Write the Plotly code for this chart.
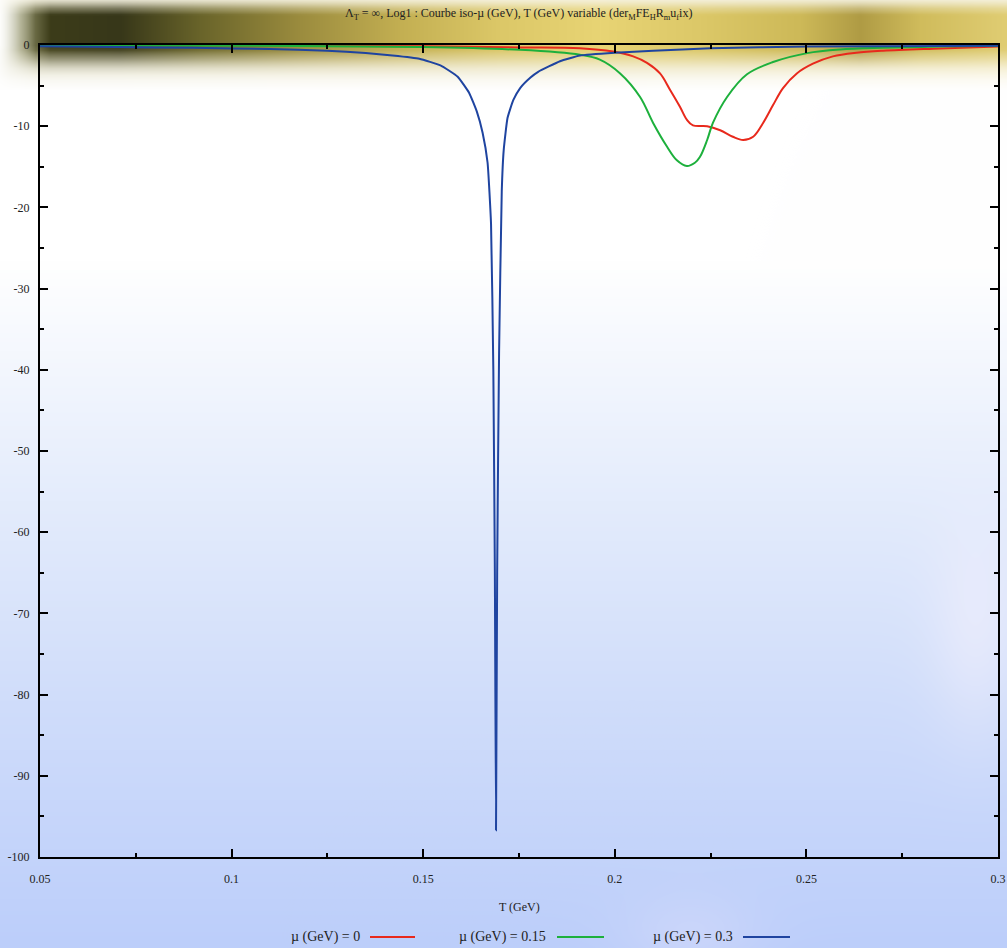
import numpy as np, zlib, struct, base64
import plotly.graph_objects as go

# ---------------- data ----------------
mu_labels = ["µ (GeV) = 0", "µ (GeV) = 0.15", "µ (GeV) = 0.3"]

T_mu0 = [0.05, 0.10, 0.15, 0.175, 0.1909, 0.1995, 0.2048, 0.2084, 0.2118, 0.2144, 0.2170,
         0.2188, 0.2204, 0.2241, 0.2275, 0.2308, 0.2335, 0.2361, 0.2387, 0.2413, 0.2439,
         0.2475, 0.2517, 0.2569, 0.2630, 0.2700, 0.2830, 0.3000]
V_mu0 = [-0.02, -0.06, -0.15, -0.3, -0.4, -0.8, -1.4, -2.2, -3.5, -5.5, -7.6,
         -9.2, -9.9, -10.0, -10.5, -11.3, -11.7, -11.3, -9.6, -7.4, -5.3,
         -3.5, -2.3, -1.4, -0.95, -0.7, -0.45, -0.2]

T_mu015 = [0.05, 0.10, 0.1492, 0.1753, 0.1909, 0.1961, 0.2014, 0.2066, 0.2100, 0.2136,
           0.2162, 0.2188, 0.2209, 0.2222, 0.2241, 0.2256, 0.2293, 0.2345, 0.2413,
           0.2502, 0.2588, 0.2700, 0.2850, 0.3000]
V_mu015 = [-0.03, -0.08, -0.25, -0.6, -1.2, -1.8, -3.5, -6.4, -9.6, -12.5,
           -14.2, -14.9, -14.5, -13.8, -11.7, -9.6, -6.4, -3.6, -2.1,
           -1.0, -0.55, -0.35, -0.2, -0.1]

T_mu03 = [0.05, 0.07, 0.09, 0.11, 0.125, 0.135, 0.142, 0.149, 0.1545, 0.159, 0.162,
          0.164, 0.1655, 0.1668, 0.1677, 0.1683, 0.1687, 0.1690, 0.1693, 0.1698,
          0.1705, 0.1710, 0.1720, 0.1735, 0.1753, 0.1780, 0.1800, 0.1857, 0.1909,
          0.2000, 0.2100, 0.2250, 0.2500, 0.3000]
V_mu03 = [-0.15, -0.25, -0.35, -0.5, -0.7, -1.0, -1.3, -1.7, -2.5, -3.9, -5.9,
          -8.2, -10.8, -14.5, -22.0, -40.0, -65.0, -96.7, -65.0, -38.0,
          -18.0, -13.0, -9.0, -6.8, -5.3, -4.0, -3.3, -2.0, -1.3,
          -0.95, -0.7, -0.4, -0.2, -0.1]

x_ticks = [0.05, 0.1, 0.15, 0.2, 0.25, 0.3]
x_tick_text = ["0.05", "0.1", "0.15", "0.2", "0.25", "0.3"]
y_ticks = [0, -10, -20, -30, -40, -50, -60, -70, -80, -90, -100]
y_tick_text = ["0", "-10", "-20", "-30", "-40", "-50", "-60", "-70", "-80", "-90", "-100"]

colors = ["#e8291c", "#1db03c", "#1f44a0"]

# ---------------- background image ----------------
W, H = 1007, 948
yy = np.arange(H, dtype=float)[:, None] * np.ones((1, W))
xx = np.ones((H, 1)) * np.arange(W, dtype=float)[None, :]

def interp_rgb(pos, stops, cols):
    cols = np.array(cols, dtype=float)
    return np.stack([np.interp(pos, stops, cols[:, k]) for k in range(3)], axis=-1)

base = interp_rgb(yy, [0, 260, 350, 500, 700, 948],
                  [(255, 255, 255), (255, 255, 255), (245, 248, 254), (228, 236, 252),
                   (208, 221, 250), (188, 206, 250)])

band_col = interp_rgb(xx, [0, 20, 50, 120, 200, 300, 400, 500, 600, 700, 800, 860, 920, 1007],
                      [(240, 240, 230), (150, 150, 110), (60, 60, 25), (55, 55, 25), (105, 100, 42),
                       (155, 140, 62), (195, 175, 82), (220, 200, 104), (232, 212, 116),
                       (220, 200, 104), (205, 185, 88), (175, 155, 68), (208, 188, 92), (224, 205, 115)])
top_col = np.array([238, 232, 200], dtype=float)
tw = np.interp(yy, [0, 6, 14], [0.8, 0.4, 0.0])[..., None]
band_col = band_col * (1 - tw) + top_col * tw
lowfade = np.interp(yy, [0, 45, 60, 75], [1.0, 1.0, 0.6, 0.0])[..., None]
pale = interp_rgb(xx, [0, 300, 1007], [(200, 195, 150), (215, 205, 150), (235, 222, 160)])
band_col = band_col * lowfade + pale * (1 - lowfade)
alpha = np.interp(yy, [0, 8, 16, 50, 58, 68, 80, 90], [0.6, 0.9, 1.0, 1.0, 0.75, 0.4, 0.12, 0.0])
alpha = alpha * np.interp(xx, [0, 10, 35], [0.2, 0.5, 1.0])
img = base * (1 - alpha[..., None]) + band_col * alpha[..., None]

blob = 0.55 * np.exp(-(((xx - 975) / 45.0) ** 2 + ((yy - 620) / 110.0) ** 2))
img = img * (1 - blob[..., None]) + np.array([242, 240, 253.0]) * blob[..., None]
blob2 = 0.35 * np.exp(-(((xx - 690) / 70.0) ** 2 + ((yy - 935) / 40.0) ** 2))
img = img * (1 - blob2[..., None]) + np.array([225, 225, 250.0]) * blob2[..., None]

img = np.clip(img, 0, 255).astype(np.uint8)

def png_bytes(a):
    h, w, _ = a.shape
    raw = b"".join(b"\x00" + a[i].tobytes() for i in range(h))
    def chunk(t, d):
        c = struct.pack(">I", len(d)) + t + d
        return c + struct.pack(">I", zlib.crc32(t + d) & 0xffffffff)
    return (b"\x89PNG\r\n\x1a\n" + chunk(b"IHDR", struct.pack(">IIBBBBB", w, h, 8, 2, 0, 0, 0))
            + chunk(b"IDAT", zlib.compress(raw, 9)) + chunk(b"IEND", b""))

bg_uri = "data:image/png;base64," + base64.b64encode(png_bytes(img)).decode()

# ---------------- figure ----------------
L, R, Tm, B = 40, 9, 45, 91
PW, PH = W - L - R, H - Tm - B

def px(x):
    return (x - L) / PW

def py(y):
    return (H - B - y) / PH

fig = go.Figure()
series = [(T_mu0, V_mu0, 1.0), (T_mu015, V_mu015, 1.0), (T_mu03, V_mu03, 0.4)]
for (t, v, sm), c, name in zip(series, colors, mu_labels):
    fig.add_trace(go.Scatter(x=t, y=v, mode="lines", name=name,
                             line=dict(color=c, width=2, shape="spline", smoothing=sm)))

font = "Liberation Serif, Times New Roman, serif"
axis_common = dict(showline=True, linecolor="black", linewidth=2, mirror="ticks",
                   ticks="inside", tickcolor="black", tickwidth=1.5, ticklen=8,
                   showgrid=False, zeroline=False,
                   tickfont=dict(family=font, size=12, color="#222"),
                   minor=dict(ticks="inside", ticklen=4, tickcolor="black", tickwidth=1.5, showgrid=False))

fig.update_xaxes(range=[0.05, 0.3], tickvals=x_ticks, ticktext=x_tick_text,
                 ticklabelstandoff=10, **axis_common)
fig.update_xaxes(minor_dtick=0.025)
fig.update_yaxes(range=[-100, 0], tickvals=y_ticks, ticktext=y_tick_text,
                 ticklabelstandoff=6, **axis_common)
fig.update_yaxes(minor_dtick=5)

annotations = [
    dict(text="Λ<sub>T</sub> = ∞, Log1 : Courbe iso-µ (GeV), T (GeV) variable "
              "(der<sub>M</sub>FE<sub>H</sub>R<sub>m</sub>u<sub>f</sub>ix)",
         x=px(518), y=py(14), xref="paper", yref="paper", showarrow=False,
         xanchor="center", yanchor="middle", font=dict(family=font, size=12, color="#222")),
    dict(text="T (GeV)", x=px(519), y=py(907), xref="paper", yref="paper", showarrow=False,
         xanchor="center", yanchor="middle", font=dict(family=font, size=12, color="#222")),
]
shapes = []
legend_pos = [(362, 370, 415), (548, 557, 604), (735, 743, 790)]
for (tx, l0, l1), c, name in zip(legend_pos, colors, mu_labels):
    annotations.append(dict(text=name, x=px(tx), y=py(937), xref="paper", yref="paper",
                            showarrow=False, xanchor="right", yanchor="middle",
                            font=dict(family=font, size=14, color="#222")))
    shapes.append(dict(type="line", xref="paper", yref="paper", x0=px(l0), x1=px(l1),
                       y0=py(937), y1=py(937), line=dict(color=c, width=2)))

fig.update_layout(
    width=W, height=H, margin=dict(l=L, r=R, t=Tm, b=B, autoexpand=False),
    paper_bgcolor="white", plot_bgcolor="rgba(0,0,0,0)",
    showlegend=False, annotations=annotations, shapes=shapes,
    images=[dict(source=bg_uri, xref="paper", yref="paper", x=px(0), y=py(0),
                 sizex=W / PW, sizey=H / PH, sizing="stretch", xanchor="left", yanchor="top",
                 layer="below")],
)

fig.write_html("out.html")
